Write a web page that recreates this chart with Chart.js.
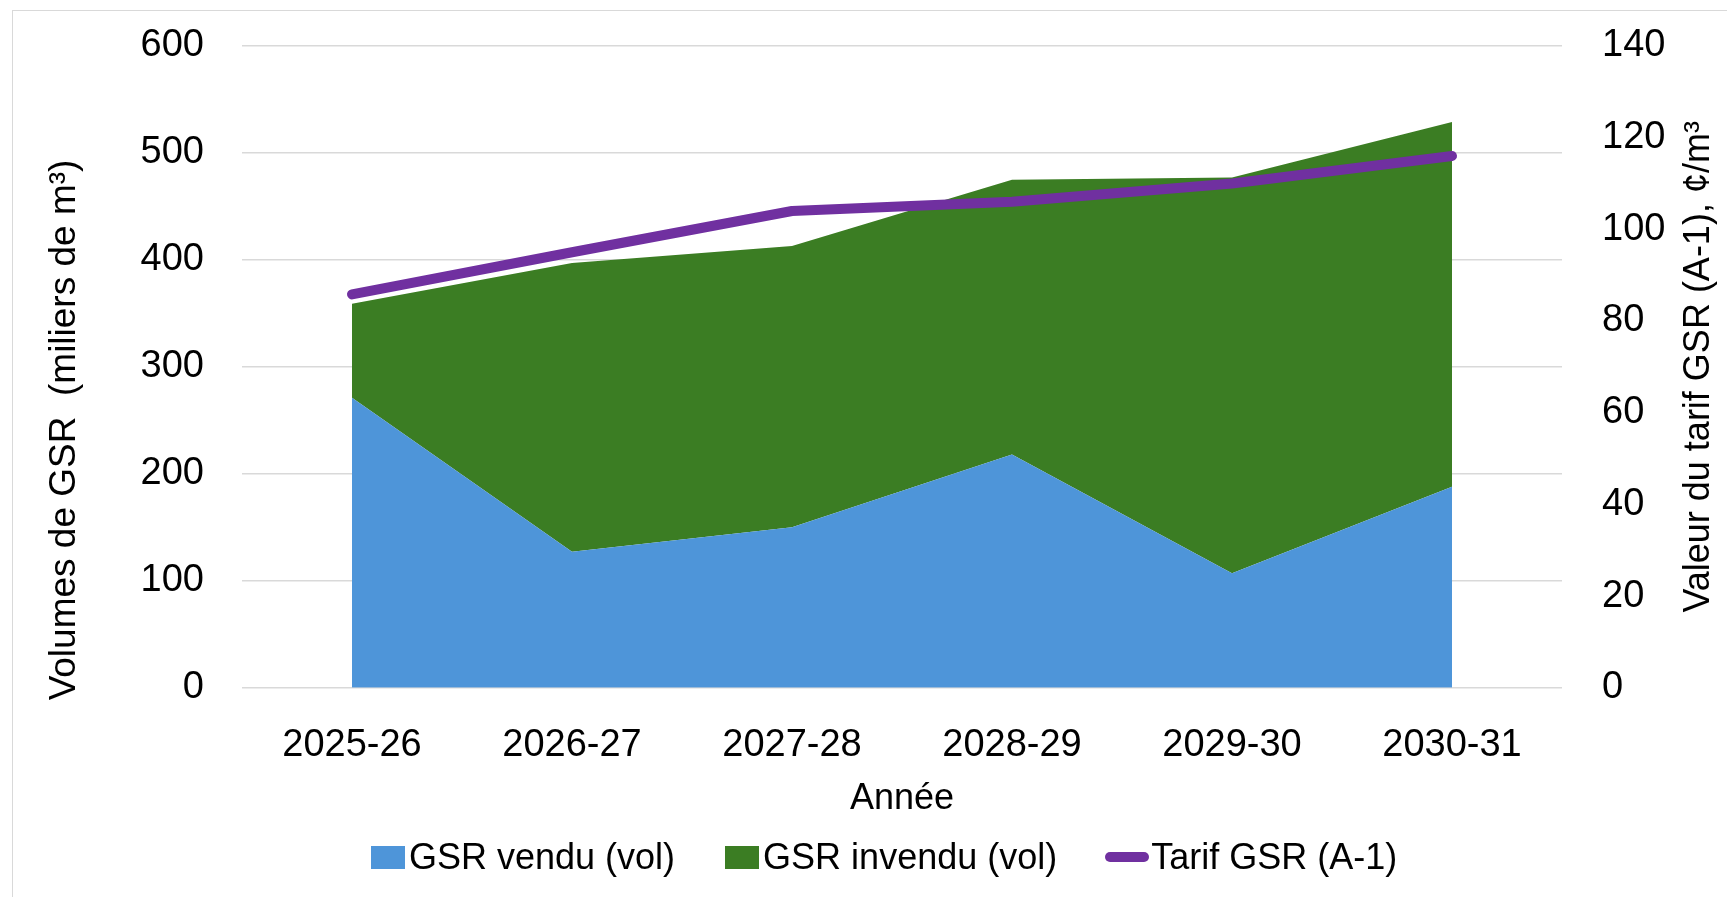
<!DOCTYPE html>
<html lang="fr">
<head>
<meta charset="utf-8">
<title>Volumes de GSR</title>
<script src="https://cdn.jsdelivr.net/npm/chart.js@4.4.1/dist/chart.umd.min.js"></script>
<style>
    html, body { margin: 0; padding: 0; background: #fff; }
    .wrap { position: relative; width: 1727px; height: 897px; overflow: hidden; }
    .frame { position: absolute; left: 12px; top: 10px; width: 1800px; height: 1000px; border: 1.5px solid #d9d9d9; box-sizing: border-box; }
    .wrap canvas { position: absolute; left: 0; top: 0; }
    .legend { position: absolute; left: 371px; top: 835px; height: 44px; display: flex; align-items: center;
        font-family: "Liberation Sans", Arial, sans-serif; font-size: 36px; color: #000; white-space: nowrap; }
    .legend .item { display: flex; align-items: center; }
    .legend .sw { display: inline-block; width: 34px; height: 23px; margin-right: 4px; }
    .legend .ln { display: inline-block; width: 44px; height: 10px; border-radius: 5px; margin-right: 2px; }
</style>
</head>
<body>
<div class="wrap">
    <div class="frame"></div>
    <canvas id="chart" width="1727" height="897"></canvas>
    <div class="legend" id="legend"></div>
</div>
<script>
    var categories = ["2025-26", "2026-27", "2027-28", "2028-29", "2029-30", "2030-31"];
    var gsrVendu = [271, 127, 150, 218, 107, 188];
    var gsrInvendu = [88, 270, 263, 257, 370, 341];
    var tarifGsr = [85.8, 95, 104, 106, 110, 116];
    var volTicks = [0, 100, 200, 300, 400, 500, 600];
    var tarifTicks = [0, 20, 40, 60, 80, 100, 120, 140];

    var titleX = "Année";
    var titleY = "Volumes de GSR  (miliers de m³)";
    var titleY1 = "Valeur du tarif GSR (A-1), ¢/m³";

    var blue = "#4e95d9", green = "#3b7d23", purple = "#7030a0";
    var fontFamily = "'Liberation Sans', Arial, sans-serif";

    var datasets = [
        {
            label: "Tarif GSR (A-1)",
            data: tarifGsr,
            yAxisID: "y1",
            borderColor: purple,
            backgroundColor: purple,
            borderWidth: 10,
            borderCapStyle: "round",
            borderJoinStyle: "round",
            pointRadius: 0,
            fill: false,
            tension: 0
        },
        {
            label: "GSR vendu (vol)",
            data: gsrVendu,
            yAxisID: "y",
            borderWidth: 0,
            borderColor: blue,
            backgroundColor: blue,
            pointRadius: 0,
            fill: "origin",
            tension: 0
        },
        {
            label: "GSR invendu (vol)",
            data: gsrInvendu,
            yAxisID: "y",
            borderWidth: 0,
            borderColor: green,
            backgroundColor: green,
            pointRadius: 0,
            fill: "-1",
            tension: 0
        }
    ];

    // axis titles drawn by hand: the right one reads bottom to top like the left one
    var axisTitles = {
        id: "axisTitles",
        afterDraw: function(chart) {
            var c = chart.ctx, area = chart.chartArea;
            c.save();
            c.fillStyle = "#000";
            c.textAlign = "center";
            c.textBaseline = "middle";

            c.font = "37px " + fontFamily;
            c.save();
            c.translate(65, 430);
            c.rotate(-Math.PI / 2);
            c.fillText(titleY, 0, 0);
            c.restore();

            c.font = "36px " + fontFamily;
            c.save();
            c.translate(1699, (area.top + area.bottom) / 2);
            c.rotate(-Math.PI / 2);
            c.fillText(titleY1, 0, 0);
            c.restore();

            c.fillText(titleX, (area.left + area.right) / 2, 799);
            c.restore();
        }
    };

    // tick padding would otherwise also push the plot top down
    function noVertPadding(axis) {
        axis.paddingTop = 0;
        axis.paddingBottom = 0;
    }

    var ctx = document.getElementById("chart").getContext("2d");
    var chart = new Chart(ctx, {
        type: "line",
        data: { labels: categories, datasets: datasets },
        plugins: [axisTitles],
        options: {
            responsive: false,
            animation: false,
            layout: { padding: { left: 102.6, right: 21.6, top: 46, bottom: 92.7 } },
            plugins: {
                legend: { display: false },
                tooltip: { enabled: false }
            },
            scales: {
                x: {
                    offset: true,
                    grid: { display: false, drawTicks: false },
                    border: { display: false },
                    ticks: { color: "#000", padding: 35.5, font: { family: fontFamily, size: 38 } }
                },
                y: {
                    position: "left",
                    stacked: true,
                    min: volTicks[0],
                    max: volTicks[volTicks.length - 1],
                    afterBuildTicks: function(axis) { axis.ticks = volTicks.map(function(v) { return { value: v }; }); },
                    afterFit: noVertPadding,
                    grid: { color: "#d9d9d9", lineWidth: 1.5, drawTicks: false },
                    border: { display: false },
                    ticks: { color: "#000", padding: 38, font: { family: fontFamily, size: 38 } }
                },
                y1: {
                    position: "right",
                    min: tarifTicks[0],
                    max: tarifTicks[tarifTicks.length - 1],
                    afterBuildTicks: function(axis) { axis.ticks = tarifTicks.map(function(v) { return { value: v }; }); },
                    afterFit: noVertPadding,
                    grid: { display: false, drawTicks: false },
                    border: { display: false },
                    ticks: { color: "#000", padding: 40, font: { family: fontFamily, size: 38 } }
                }
            }
        }
    });

    // legend, in the order of the picture
    var legendOrder = [1, 2, 0];
    var legend = document.getElementById("legend");
    legendOrder.forEach(function(i, n) {
        var ds = datasets[i];
        var item = document.createElement("span");
        item.className = "item";
        if (n > 0) item.style.marginLeft = n === 1 ? "50px" : "48px";
        var sw = document.createElement("span");
        sw.className = ds.fill === false ? "ln" : "sw";
        sw.style.background = ds.backgroundColor;
        item.appendChild(sw);
        item.appendChild(document.createTextNode(ds.label));
        legend.appendChild(item);
    });
</script>
</body>
</html>
